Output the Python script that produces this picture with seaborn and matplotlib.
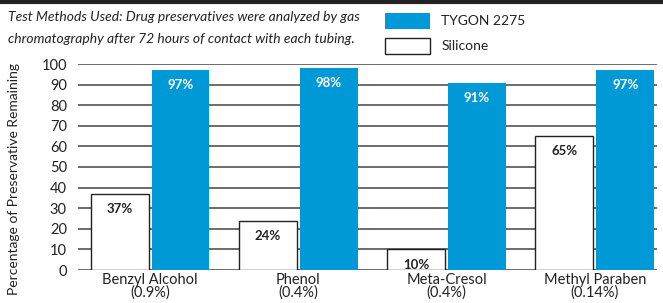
import matplotlib
matplotlib.use("Agg")
import matplotlib.pyplot as plt
import matplotlib.patches as mpatches
import pandas as pd
import seaborn as sns

# ---------------------------------------------------------------------------
# Data
# ---------------------------------------------------------------------------
preservatives = ["Benzyl Alcohol\n(0.9%)", "Phenol\n(0.4%)",
                 "Meta-Cresol\n(0.4%)", "Methyl Paraben\n(0.14%)"]
silicone = [37, 24, 10, 65]
tygon = [97, 98, 91, 97]
tubings = ["Silicone", "TYGON 2275"]
y_ticks = list(range(0, 101, 10))
note_lines = ["Test Methods Used: Drug preservatives were analyzed by gas",
              "chromatography after 72 hours of contact with each tubing."]

BLUE = "#0099d8"

df = pd.DataFrame({
    "preservative": preservatives * 2,
    "tubing": [tubings[0]] * 4 + [tubings[1]] * 4,
    "remaining": silicone + tygon,
})

# ---------------------------------------------------------------------------
# Styling
# ---------------------------------------------------------------------------
sns.set_style("white")
plt.rcParams["font.family"] = ["Lato", "DejaVu Sans"]

fig = plt.figure(figsize=(6.63, 3.03), dpi=100)
ax = fig.add_axes([78 / 663, 1 - 270 / 303, (657 - 78) / 663, (270 - 64) / 303])

sns.barplot(
    data=df, x="preservative", y="remaining", hue="tubing",
    hue_order=tubings, order=preservatives,
    palette={"Silicone": "white", "TYGON 2275": BLUE}, saturation=1,
    width=0.82, gap=0.05, ax=ax, legend=False, zorder=3,
)

# contour noir pour les barres silicone seulement
for bar in ax.containers[0]:
    bar.set_edgecolor("#222222")
    bar.set_linewidth(1.0)
for bar in ax.containers[1]:
    bar.set_edgecolor("none")

# étiquettes de valeur en haut des barres
for cont, color in zip(ax.containers, ["#222222", "white"]):
    for bar in cont:
        h = bar.get_height()
        ax.text(bar.get_x() + bar.get_width() / 2, h - 4.5, f"{h:.0f}%",
                ha="center", va="top", fontsize=9.5, fontweight="bold",
                color=color, zorder=4)

# grille horizontale
ax.set_ylim(0, 100)
ax.set_yticks(y_ticks)
ax.yaxis.grid(True, color="#444444", linewidth=1.1, zorder=0)
ax.set_axisbelow(True)
ax.set_xlim(-0.486, 3.42)
for s in ax.spines.values():
    s.set_visible(False)
ax.tick_params(axis="y", length=0, pad=8, labelsize=10.5, colors="#222222")
ax.tick_params(axis="x", length=0, pad=2, labelsize=10.5, colors="#222222")
for lbl in ax.get_xticklabels():
    lbl.set_linespacing(0.9)
ax.set_xlabel("")
ax.set_ylabel("Percentage of Preservative Remaining", fontsize=10,
              color="#222222")
ax.yaxis.set_label_coords(-0.1, 0.44)

# ligne noire en haut
fig.add_artist(plt.Line2D([0, 1], [1 - 1.5 / 303] * 2, color="#222222",
                          linewidth=3, transform=fig.transFigure))

# texte méthode (deux lignes, espacement comme l'original)
for k, line in enumerate(note_lines):
    fig.text(8 / 663, 1 - (17 + 22 * k) / 303, line,
             ha="left", va="center", fontsize=10, style="italic",
             color="#222222")

# légende
handles = [mpatches.Patch(facecolor=BLUE, edgecolor="none", label="TYGON 2275"),
           mpatches.Patch(facecolor="white", edgecolor="#222222", label="Silicone")]
fig.legend(handles=handles, loc="upper left",
           bbox_to_anchor=(372 / 663, 1 - 0 / 303), frameon=False,
           fontsize=10, handlelength=3.3, handleheight=1.4,
           handletextpad=0.8, labelspacing=0.65, labelcolor="#222222")

fig.savefig("out.png", dpi=100)
